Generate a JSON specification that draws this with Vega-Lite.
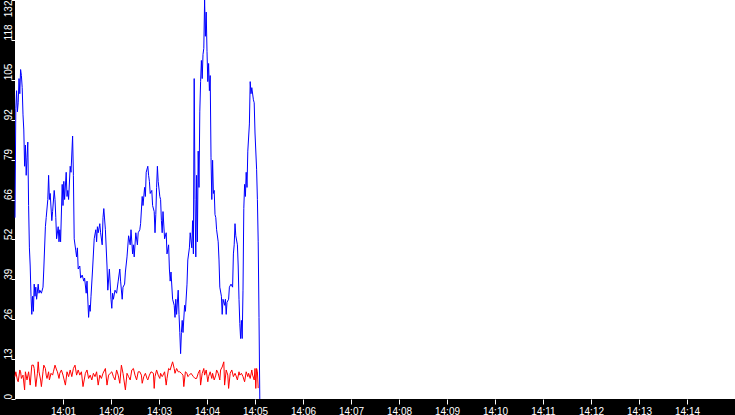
{
  "$schema": "https://vega.github.io/schema/vega-lite/v6.json",
  "width": 720,
  "height": 399,
  "autosize": "none",
  "padding": {"left": 15, "top": 0, "right": 0, "bottom": 16},
  "background": "black",
  "view": {"fill": "white", "stroke": null},
  "datasets": {
    "blue": [
      {"t": "2024-01-01T14:00:00", "v": 60}, {"t": "2024-01-01T14:00:01", "v": 96}, {"t": "2024-01-01T14:00:02", "v": 102},
      {"t": "2024-01-01T14:00:03", "v": 95}, {"t": "2024-01-01T14:00:04", "v": 98}, {"t": "2024-01-01T14:00:05", "v": 106},
      {"t": "2024-01-01T14:00:06", "v": 101}, {"t": "2024-01-01T14:00:07", "v": 109}, {"t": "2024-01-01T14:00:08", "v": 107},
      {"t": "2024-01-01T14:00:09", "v": 103}, {"t": "2024-01-01T14:00:10", "v": 94}, {"t": "2024-01-01T14:00:11", "v": 89},
      {"t": "2024-01-01T14:00:12", "v": 77}, {"t": "2024-01-01T14:00:13", "v": 84}, {"t": "2024-01-01T14:00:14", "v": 74},
      {"t": "2024-01-01T14:00:15", "v": 80}, {"t": "2024-01-01T14:00:16", "v": 85}, {"t": "2024-01-01T14:00:17", "v": 64},
      {"t": "2024-01-01T14:00:18", "v": 50}, {"t": "2024-01-01T14:00:19", "v": 44}, {"t": "2024-01-01T14:00:20", "v": 34},
      {"t": "2024-01-01T14:00:21", "v": 28}, {"t": "2024-01-01T14:00:22", "v": 34}, {"t": "2024-01-01T14:00:23", "v": 29},
      {"t": "2024-01-01T14:00:24", "v": 38}, {"t": "2024-01-01T14:00:25", "v": 34}, {"t": "2024-01-01T14:00:26", "v": 37},
      {"t": "2024-01-01T14:00:27", "v": 33}, {"t": "2024-01-01T14:00:29", "v": 38}, {"t": "2024-01-01T14:00:30", "v": 35},
      {"t": "2024-01-01T14:00:31", "v": 36}, {"t": "2024-01-01T14:00:33", "v": 35}, {"t": "2024-01-01T14:00:35", "v": 37},
      {"t": "2024-01-01T14:00:36", "v": 43}, {"t": "2024-01-01T14:00:38", "v": 57}, {"t": "2024-01-01T14:00:39", "v": 60},
      {"t": "2024-01-01T14:00:41", "v": 66}, {"t": "2024-01-01T14:00:42", "v": 74}, {"t": "2024-01-01T14:00:43", "v": 66},
      {"t": "2024-01-01T14:00:44", "v": 68}, {"t": "2024-01-01T14:00:46", "v": 59}, {"t": "2024-01-01T14:00:47", "v": 62},
      {"t": "2024-01-01T14:00:49", "v": 69}, {"t": "2024-01-01T14:00:50", "v": 66}, {"t": "2024-01-01T14:00:51", "v": 60},
      {"t": "2024-01-01T14:00:52", "v": 53}, {"t": "2024-01-01T14:00:54", "v": 57}, {"t": "2024-01-01T14:00:55", "v": 52},
      {"t": "2024-01-01T14:00:56", "v": 56}, {"t": "2024-01-01T14:00:57", "v": 52}, {"t": "2024-01-01T14:00:59", "v": 71},
      {"t": "2024-01-01T14:01:00", "v": 64}, {"t": "2024-01-01T14:01:01", "v": 72}, {"t": "2024-01-01T14:01:02", "v": 66},
      {"t": "2024-01-01T14:01:04", "v": 75}, {"t": "2024-01-01T14:01:05", "v": 67}, {"t": "2024-01-01T14:01:06", "v": 69},
      {"t": "2024-01-01T14:01:07", "v": 66}, {"t": "2024-01-01T14:01:09", "v": 77}, {"t": "2024-01-01T14:01:10", "v": 75},
      {"t": "2024-01-01T14:01:12", "v": 87}, {"t": "2024-01-01T14:01:13", "v": 74}, {"t": "2024-01-01T14:01:14", "v": 53},
      {"t": "2024-01-01T14:01:16", "v": 49}, {"t": "2024-01-01T14:01:17", "v": 47}, {"t": "2024-01-01T14:01:18", "v": 50},
      {"t": "2024-01-01T14:01:19", "v": 43}, {"t": "2024-01-01T14:01:21", "v": 44}, {"t": "2024-01-01T14:01:22", "v": 40},
      {"t": "2024-01-01T14:01:24", "v": 41}, {"t": "2024-01-01T14:01:26", "v": 39}, {"t": "2024-01-01T14:01:27", "v": 40},
      {"t": "2024-01-01T14:01:29", "v": 35}, {"t": "2024-01-01T14:01:30", "v": 39}, {"t": "2024-01-01T14:01:32", "v": 27},
      {"t": "2024-01-01T14:01:33", "v": 31}, {"t": "2024-01-01T14:01:34", "v": 29}, {"t": "2024-01-01T14:01:35", "v": 34},
      {"t": "2024-01-01T14:01:37", "v": 43}, {"t": "2024-01-01T14:01:39", "v": 53}, {"t": "2024-01-01T14:01:41", "v": 56},
      {"t": "2024-01-01T14:01:42", "v": 52}, {"t": "2024-01-01T14:01:43", "v": 57}, {"t": "2024-01-01T14:01:44", "v": 55},
      {"t": "2024-01-01T14:01:46", "v": 58}, {"t": "2024-01-01T14:01:47", "v": 55}, {"t": "2024-01-01T14:01:49", "v": 51},
      {"t": "2024-01-01T14:01:50", "v": 60}, {"t": "2024-01-01T14:01:51", "v": 63}, {"t": "2024-01-01T14:01:53", "v": 56},
      {"t": "2024-01-01T14:01:55", "v": 44}, {"t": "2024-01-01T14:01:56", "v": 36}, {"t": "2024-01-01T14:01:58", "v": 43},
      {"t": "2024-01-01T14:02:00", "v": 33}, {"t": "2024-01-01T14:02:01", "v": 30}, {"t": "2024-01-01T14:02:02", "v": 35},
      {"t": "2024-01-01T14:02:03", "v": 33}, {"t": "2024-01-01T14:02:05", "v": 36}, {"t": "2024-01-01T14:02:07", "v": 35},
      {"t": "2024-01-01T14:02:09", "v": 39}, {"t": "2024-01-01T14:02:11", "v": 43}, {"t": "2024-01-01T14:02:12", "v": 39},
      {"t": "2024-01-01T14:02:14", "v": 33}, {"t": "2024-01-01T14:02:15", "v": 37}, {"t": "2024-01-01T14:02:17", "v": 38},
      {"t": "2024-01-01T14:02:18", "v": 42}, {"t": "2024-01-01T14:02:20", "v": 47}, {"t": "2024-01-01T14:02:22", "v": 54},
      {"t": "2024-01-01T14:02:24", "v": 51}, {"t": "2024-01-01T14:02:25", "v": 56}, {"t": "2024-01-01T14:02:27", "v": 48},
      {"t": "2024-01-01T14:02:28", "v": 51}, {"t": "2024-01-01T14:02:29", "v": 47}, {"t": "2024-01-01T14:02:31", "v": 55},
      {"t": "2024-01-01T14:02:33", "v": 51}, {"t": "2024-01-01T14:02:34", "v": 55}, {"t": "2024-01-01T14:02:36", "v": 56},
      {"t": "2024-01-01T14:02:37", "v": 58}, {"t": "2024-01-01T14:02:39", "v": 67}, {"t": "2024-01-01T14:02:40", "v": 64},
      {"t": "2024-01-01T14:02:42", "v": 70}, {"t": "2024-01-01T14:02:43", "v": 67}, {"t": "2024-01-01T14:02:44", "v": 75},
      {"t": "2024-01-01T14:02:46", "v": 77}, {"t": "2024-01-01T14:02:47", "v": 74}, {"t": "2024-01-01T14:02:48", "v": 72},
      {"t": "2024-01-01T14:02:49", "v": 68}, {"t": "2024-01-01T14:02:51", "v": 69}, {"t": "2024-01-01T14:02:52", "v": 64},
      {"t": "2024-01-01T14:02:54", "v": 62}, {"t": "2024-01-01T14:02:55", "v": 55}, {"t": "2024-01-01T14:02:56", "v": 61},
      {"t": "2024-01-01T14:02:57", "v": 70}, {"t": "2024-01-01T14:02:58", "v": 77}, {"t": "2024-01-01T14:02:59", "v": 72},
      {"t": "2024-01-01T14:03:01", "v": 67}, {"t": "2024-01-01T14:03:02", "v": 66}, {"t": "2024-01-01T14:03:03", "v": 59},
      {"t": "2024-01-01T14:03:04", "v": 55}, {"t": "2024-01-01T14:03:05", "v": 62}, {"t": "2024-01-01T14:03:07", "v": 53},
      {"t": "2024-01-01T14:03:09", "v": 55}, {"t": "2024-01-01T14:03:10", "v": 48}, {"t": "2024-01-01T14:03:12", "v": 51},
      {"t": "2024-01-01T14:03:13", "v": 43}, {"t": "2024-01-01T14:03:14", "v": 39}, {"t": "2024-01-01T14:03:15", "v": 42},
      {"t": "2024-01-01T14:03:17", "v": 33}, {"t": "2024-01-01T14:03:19", "v": 31}, {"t": "2024-01-01T14:03:20", "v": 27},
      {"t": "2024-01-01T14:03:21", "v": 33}, {"t": "2024-01-01T14:03:22", "v": 28}, {"t": "2024-01-01T14:03:24", "v": 36},
      {"t": "2024-01-01T14:03:25", "v": 28}, {"t": "2024-01-01T14:03:26", "v": 22}, {"t": "2024-01-01T14:03:27", "v": 15},
      {"t": "2024-01-01T14:03:28", "v": 22}, {"t": "2024-01-01T14:03:29", "v": 26}, {"t": "2024-01-01T14:03:30", "v": 22},
      {"t": "2024-01-01T14:03:32", "v": 31}, {"t": "2024-01-01T14:03:33", "v": 29}, {"t": "2024-01-01T14:03:35", "v": 38},
      {"t": "2024-01-01T14:03:36", "v": 46}, {"t": "2024-01-01T14:03:38", "v": 50}, {"t": "2024-01-01T14:03:39", "v": 55},
      {"t": "2024-01-01T14:03:41", "v": 50}, {"t": "2024-01-01T14:03:42", "v": 59}, {"t": "2024-01-01T14:03:43", "v": 48},
      {"t": "2024-01-01T14:03:44", "v": 106}, {"t": "2024-01-01T14:03:45", "v": 66}, {"t": "2024-01-01T14:03:46", "v": 47},
      {"t": "2024-01-01T14:03:47", "v": 74}, {"t": "2024-01-01T14:03:48", "v": 52}, {"t": "2024-01-01T14:03:49", "v": 82},
      {"t": "2024-01-01T14:03:50", "v": 70}, {"t": "2024-01-01T14:03:51", "v": 95}, {"t": "2024-01-01T14:03:52", "v": 105},
      {"t": "2024-01-01T14:03:53", "v": 112}, {"t": "2024-01-01T14:03:54", "v": 106}, {"t": "2024-01-01T14:03:55", "v": 114},
      {"t": "2024-01-01T14:03:56", "v": 116}, {"t": "2024-01-01T14:03:57", "v": 132}, {"t": "2024-01-01T14:03:58", "v": 120},
      {"t": "2024-01-01T14:03:59", "v": 128}, {"t": "2024-01-01T14:04:00", "v": 115}, {"t": "2024-01-01T14:04:01", "v": 105},
      {"t": "2024-01-01T14:04:02", "v": 111}, {"t": "2024-01-01T14:04:03", "v": 102}, {"t": "2024-01-01T14:04:04", "v": 107},
      {"t": "2024-01-01T14:04:05", "v": 80}, {"t": "2024-01-01T14:04:06", "v": 66}, {"t": "2024-01-01T14:04:07", "v": 79},
      {"t": "2024-01-01T14:04:08", "v": 68}, {"t": "2024-01-01T14:04:09", "v": 69}, {"t": "2024-01-01T14:04:10", "v": 61},
      {"t": "2024-01-01T14:04:11", "v": 60}, {"t": "2024-01-01T14:04:12", "v": 56}, {"t": "2024-01-01T14:04:14", "v": 52},
      {"t": "2024-01-01T14:04:15", "v": 46}, {"t": "2024-01-01T14:04:16", "v": 37}, {"t": "2024-01-01T14:04:18", "v": 34},
      {"t": "2024-01-01T14:04:19", "v": 28}, {"t": "2024-01-01T14:04:20", "v": 33}, {"t": "2024-01-01T14:04:22", "v": 31},
      {"t": "2024-01-01T14:04:23", "v": 33}, {"t": "2024-01-01T14:04:24", "v": 28}, {"t": "2024-01-01T14:04:25", "v": 32},
      {"t": "2024-01-01T14:04:27", "v": 33}, {"t": "2024-01-01T14:04:28", "v": 37}, {"t": "2024-01-01T14:04:30", "v": 38},
      {"t": "2024-01-01T14:04:32", "v": 37}, {"t": "2024-01-01T14:04:33", "v": 48}, {"t": "2024-01-01T14:04:34", "v": 51},
      {"t": "2024-01-01T14:04:35", "v": 58}, {"t": "2024-01-01T14:04:36", "v": 54}, {"t": "2024-01-01T14:04:38", "v": 51},
      {"t": "2024-01-01T14:04:39", "v": 44}, {"t": "2024-01-01T14:04:40", "v": 33}, {"t": "2024-01-01T14:04:41", "v": 25},
      {"t": "2024-01-01T14:04:42", "v": 20}, {"t": "2024-01-01T14:04:43", "v": 26}, {"t": "2024-01-01T14:04:44", "v": 20},
      {"t": "2024-01-01T14:04:45", "v": 36}, {"t": "2024-01-01T14:04:46", "v": 63}, {"t": "2024-01-01T14:04:47", "v": 71},
      {"t": "2024-01-01T14:04:48", "v": 67}, {"t": "2024-01-01T14:04:49", "v": 75}, {"t": "2024-01-01T14:04:50", "v": 70},
      {"t": "2024-01-01T14:04:51", "v": 82}, {"t": "2024-01-01T14:04:53", "v": 91}, {"t": "2024-01-01T14:04:54", "v": 105},
      {"t": "2024-01-01T14:04:55", "v": 101}, {"t": "2024-01-01T14:04:56", "v": 103}, {"t": "2024-01-01T14:04:58", "v": 99},
      {"t": "2024-01-01T14:04:59", "v": 98}, {"t": "2024-01-01T14:05:00", "v": 88}, {"t": "2024-01-01T14:05:02", "v": 76},
      {"t": "2024-01-01T14:05:03", "v": 66}, {"t": "2024-01-01T14:05:04", "v": 52}, {"t": "2024-01-01T14:05:05", "v": 27},
      {"t": "2024-01-01T14:05:06", "v": 0}
    ],
    "red": [
      {"t": "2024-01-01T14:00:00", "v": 7.4}, {"t": "2024-01-01T14:00:01", "v": 9.0}, {"t": "2024-01-01T14:00:03", "v": 6.3},
      {"t": "2024-01-01T14:00:04", "v": 5.7}, {"t": "2024-01-01T14:00:06", "v": 9.6}, {"t": "2024-01-01T14:00:07", "v": 9.0},
      {"t": "2024-01-01T14:00:08", "v": 6.8}, {"t": "2024-01-01T14:00:10", "v": 7.9}, {"t": "2024-01-01T14:00:12", "v": 3.0},
      {"t": "2024-01-01T14:00:13", "v": 9.0}, {"t": "2024-01-01T14:00:15", "v": 6.3}, {"t": "2024-01-01T14:00:17", "v": 9.0},
      {"t": "2024-01-01T14:00:19", "v": 4.6}, {"t": "2024-01-01T14:00:21", "v": 11.2}, {"t": "2024-01-01T14:00:23", "v": 11.2},
      {"t": "2024-01-01T14:00:24", "v": 10.1}, {"t": "2024-01-01T14:00:26", "v": 4.1}, {"t": "2024-01-01T14:00:28", "v": 8.5},
      {"t": "2024-01-01T14:00:29", "v": 12.3}, {"t": "2024-01-01T14:00:30", "v": 9.0}, {"t": "2024-01-01T14:00:32", "v": 6.3},
      {"t": "2024-01-01T14:00:33", "v": 4.1}, {"t": "2024-01-01T14:00:35", "v": 9.0}, {"t": "2024-01-01T14:00:36", "v": 11.2},
      {"t": "2024-01-01T14:00:38", "v": 10.1}, {"t": "2024-01-01T14:00:39", "v": 7.9}, {"t": "2024-01-01T14:00:40", "v": 6.8},
      {"t": "2024-01-01T14:00:42", "v": 9.0}, {"t": "2024-01-01T14:00:43", "v": 6.3}, {"t": "2024-01-01T14:00:45", "v": 8.5},
      {"t": "2024-01-01T14:00:47", "v": 7.9}, {"t": "2024-01-01T14:00:48", "v": 9.0}, {"t": "2024-01-01T14:00:50", "v": 11.2},
      {"t": "2024-01-01T14:00:52", "v": 9.6}, {"t": "2024-01-01T14:00:53", "v": 9.0}, {"t": "2024-01-01T14:00:55", "v": 6.8},
      {"t": "2024-01-01T14:00:56", "v": 8.5}, {"t": "2024-01-01T14:00:58", "v": 9.6}, {"t": "2024-01-01T14:01:00", "v": 7.9},
      {"t": "2024-01-01T14:01:03", "v": 4.6}, {"t": "2024-01-01T14:01:05", "v": 9.0}, {"t": "2024-01-01T14:01:07", "v": 7.4},
      {"t": "2024-01-01T14:01:09", "v": 9.6}, {"t": "2024-01-01T14:01:11", "v": 7.4}, {"t": "2024-01-01T14:01:13", "v": 10.1},
      {"t": "2024-01-01T14:01:15", "v": 11.2}, {"t": "2024-01-01T14:01:17", "v": 7.9}, {"t": "2024-01-01T14:01:19", "v": 9.6},
      {"t": "2024-01-01T14:01:21", "v": 7.9}, {"t": "2024-01-01T14:01:23", "v": 9.0}, {"t": "2024-01-01T14:01:25", "v": 4.1},
      {"t": "2024-01-01T14:01:28", "v": 8.5}, {"t": "2024-01-01T14:01:30", "v": 9.6}, {"t": "2024-01-01T14:01:32", "v": 6.8},
      {"t": "2024-01-01T14:01:34", "v": 7.9}, {"t": "2024-01-01T14:01:36", "v": 6.3}, {"t": "2024-01-01T14:01:38", "v": 8.5},
      {"t": "2024-01-01T14:01:40", "v": 7.4}, {"t": "2024-01-01T14:01:42", "v": 9.0}, {"t": "2024-01-01T14:01:44", "v": 4.6},
      {"t": "2024-01-01T14:01:46", "v": 7.9}, {"t": "2024-01-01T14:01:48", "v": 6.8}, {"t": "2024-01-01T14:01:50", "v": 8.5},
      {"t": "2024-01-01T14:01:53", "v": 10.1}, {"t": "2024-01-01T14:01:55", "v": 4.6}, {"t": "2024-01-01T14:01:57", "v": 7.9},
      {"t": "2024-01-01T14:01:59", "v": 8.5}, {"t": "2024-01-01T14:02:01", "v": 9.0}, {"t": "2024-01-01T14:02:03", "v": 7.4},
      {"t": "2024-01-01T14:02:05", "v": 6.3}, {"t": "2024-01-01T14:02:07", "v": 9.6}, {"t": "2024-01-01T14:02:09", "v": 7.9},
      {"t": "2024-01-01T14:02:11", "v": 5.2}, {"t": "2024-01-01T14:02:13", "v": 11.2}, {"t": "2024-01-01T14:02:15", "v": 8.5},
      {"t": "2024-01-01T14:02:18", "v": 3.0}, {"t": "2024-01-01T14:02:20", "v": 8.5}, {"t": "2024-01-01T14:02:22", "v": 7.4},
      {"t": "2024-01-01T14:02:24", "v": 6.3}, {"t": "2024-01-01T14:02:26", "v": 9.6}, {"t": "2024-01-01T14:02:28", "v": 10.1},
      {"t": "2024-01-01T14:02:30", "v": 7.9}, {"t": "2024-01-01T14:02:32", "v": 6.3}, {"t": "2024-01-01T14:02:34", "v": 9.0},
      {"t": "2024-01-01T14:02:36", "v": 9.0}, {"t": "2024-01-01T14:02:38", "v": 7.9}, {"t": "2024-01-01T14:02:39", "v": 5.2},
      {"t": "2024-01-01T14:02:41", "v": 7.4}, {"t": "2024-01-01T14:02:43", "v": 8.5}, {"t": "2024-01-01T14:02:45", "v": 6.8},
      {"t": "2024-01-01T14:02:46", "v": 6.3}, {"t": "2024-01-01T14:02:48", "v": 7.9}, {"t": "2024-01-01T14:02:50", "v": 9.0},
      {"t": "2024-01-01T14:02:53", "v": 8.5}, {"t": "2024-01-01T14:02:54", "v": 3.5}, {"t": "2024-01-01T14:02:55", "v": 7.4},
      {"t": "2024-01-01T14:02:57", "v": 9.6}, {"t": "2024-01-01T14:02:59", "v": 7.9}, {"t": "2024-01-01T14:03:01", "v": 6.8},
      {"t": "2024-01-01T14:03:02", "v": 8.5}, {"t": "2024-01-01T14:03:04", "v": 7.4}, {"t": "2024-01-01T14:03:05", "v": 7.9},
      {"t": "2024-01-01T14:03:07", "v": 9.0}, {"t": "2024-01-01T14:03:09", "v": 4.6}, {"t": "2024-01-01T14:03:10", "v": 6.8},
      {"t": "2024-01-01T14:03:12", "v": 10.1}, {"t": "2024-01-01T14:03:14", "v": 9.6}, {"t": "2024-01-01T14:03:15", "v": 10.6},
      {"t": "2024-01-01T14:03:17", "v": 12.3}, {"t": "2024-01-01T14:03:19", "v": 10.1}, {"t": "2024-01-01T14:03:20", "v": 8.5},
      {"t": "2024-01-01T14:03:22", "v": 10.1}, {"t": "2024-01-01T14:03:24", "v": 9.0}, {"t": "2024-01-01T14:03:26", "v": 9.0},
      {"t": "2024-01-01T14:03:28", "v": 8.5}, {"t": "2024-01-01T14:03:30", "v": 7.9}, {"t": "2024-01-01T14:03:31", "v": 4.1},
      {"t": "2024-01-01T14:03:33", "v": 9.0}, {"t": "2024-01-01T14:03:35", "v": 8.5}, {"t": "2024-01-01T14:03:36", "v": 7.4},
      {"t": "2024-01-01T14:03:38", "v": 7.9}, {"t": "2024-01-01T14:03:40", "v": 8.5}, {"t": "2024-01-01T14:03:43", "v": 7.4},
      {"t": "2024-01-01T14:03:45", "v": 6.8}, {"t": "2024-01-01T14:03:47", "v": 6.8}, {"t": "2024-01-01T14:03:49", "v": 8.5},
      {"t": "2024-01-01T14:03:51", "v": 9.6}, {"t": "2024-01-01T14:03:52", "v": 4.6}, {"t": "2024-01-01T14:03:54", "v": 8.5},
      {"t": "2024-01-01T14:03:56", "v": 10.1}, {"t": "2024-01-01T14:03:57", "v": 7.9}, {"t": "2024-01-01T14:03:59", "v": 9.6},
      {"t": "2024-01-01T14:04:01", "v": 5.7}, {"t": "2024-01-01T14:04:02", "v": 7.4}, {"t": "2024-01-01T14:04:04", "v": 9.0},
      {"t": "2024-01-01T14:04:06", "v": 6.8}, {"t": "2024-01-01T14:04:07", "v": 8.5}, {"t": "2024-01-01T14:04:09", "v": 6.3},
      {"t": "2024-01-01T14:04:11", "v": 7.9}, {"t": "2024-01-01T14:04:12", "v": 9.6}, {"t": "2024-01-01T14:04:14", "v": 8.5},
      {"t": "2024-01-01T14:04:16", "v": 6.3}, {"t": "2024-01-01T14:04:17", "v": 9.6}, {"t": "2024-01-01T14:04:19", "v": 10.6},
      {"t": "2024-01-01T14:04:21", "v": 12.3}, {"t": "2024-01-01T14:04:22", "v": 4.6}, {"t": "2024-01-01T14:04:24", "v": 9.6},
      {"t": "2024-01-01T14:04:26", "v": 7.9}, {"t": "2024-01-01T14:04:27", "v": 3.5}, {"t": "2024-01-01T14:04:29", "v": 8.5},
      {"t": "2024-01-01T14:04:31", "v": 9.6}, {"t": "2024-01-01T14:04:33", "v": 7.4}, {"t": "2024-01-01T14:04:35", "v": 8.5},
      {"t": "2024-01-01T14:04:36", "v": 7.9}, {"t": "2024-01-01T14:04:38", "v": 6.3}, {"t": "2024-01-01T14:04:40", "v": 9.0},
      {"t": "2024-01-01T14:04:41", "v": 7.9}, {"t": "2024-01-01T14:04:43", "v": 8.5}, {"t": "2024-01-01T14:04:45", "v": 7.4},
      {"t": "2024-01-01T14:04:47", "v": 5.7}, {"t": "2024-01-01T14:04:49", "v": 9.0}, {"t": "2024-01-01T14:04:51", "v": 7.4},
      {"t": "2024-01-01T14:04:52", "v": 8.5}, {"t": "2024-01-01T14:04:54", "v": 6.8}, {"t": "2024-01-01T14:04:56", "v": 9.6},
      {"t": "2024-01-01T14:04:57", "v": 7.9}, {"t": "2024-01-01T14:04:59", "v": 6.3}, {"t": "2024-01-01T14:05:00", "v": 10.1},
      {"t": "2024-01-01T14:05:01", "v": 3.5}, {"t": "2024-01-01T14:05:02", "v": 10.1}, {"t": "2024-01-01T14:05:03", "v": 9.0},
      {"t": "2024-01-01T14:05:04", "v": 3.6}
    ]
  },
  "encoding": {
    "x": {
      "field": "t",
      "type": "temporal",
      "title": null,
      "scale": {
        "domain": [
          {"year": 2024, "month": 1, "date": 1, "hours": 14, "minutes": 0},
          {"year": 2024, "month": 1, "date": 1, "hours": 14, "minutes": 15}
        ]
      },
      "axis": {
        "values": [
          {"year": 2024, "month": 1, "date": 1, "hours": 14, "minutes": 1},
          {"year": 2024, "month": 1, "date": 1, "hours": 14, "minutes": 2},
          {"year": 2024, "month": 1, "date": 1, "hours": 14, "minutes": 3},
          {"year": 2024, "month": 1, "date": 1, "hours": 14, "minutes": 4},
          {"year": 2024, "month": 1, "date": 1, "hours": 14, "minutes": 5},
          {"year": 2024, "month": 1, "date": 1, "hours": 14, "minutes": 6},
          {"year": 2024, "month": 1, "date": 1, "hours": 14, "minutes": 7},
          {"year": 2024, "month": 1, "date": 1, "hours": 14, "minutes": 8},
          {"year": 2024, "month": 1, "date": 1, "hours": 14, "minutes": 9},
          {"year": 2024, "month": 1, "date": 1, "hours": 14, "minutes": 10},
          {"year": 2024, "month": 1, "date": 1, "hours": 14, "minutes": 11},
          {"year": 2024, "month": 1, "date": 1, "hours": 14, "minutes": 12},
          {"year": 2024, "month": 1, "date": 1, "hours": 14, "minutes": 13},
          {"year": 2024, "month": 1, "date": 1, "hours": 14, "minutes": 14}
        ],
        "format": "%H:%M",
        "domain": false,
        "grid": false,
        "tickColor": "white",
        "tickSize": 5,
        "labelColor": "white",
        "labelFont": "Liberation Sans",
        "labelFontSize": 10,
        "labelPadding": 2,
        "labelFlush": false,
        "labelOverlap": false
      }
    },
    "y": {
      "field": "v",
      "type": "quantitative",
      "title": null,
      "scale": {"domain": [0, 132], "nice": false},
      "axis": {
        "values": [0, 13.2, 26.4, 39.6, 52.8, 66, 79.2, 92.4, 105.6, 118.8, 132],
        "labelExpr": "floor(datum.value)",
        "domain": false,
        "grid": false,
        "tickColor": "white",
        "tickSize": 4,
        "labelColor": "white",
        "labelFont": "Liberation Sans",
        "labelFontSize": 10,
        "labelAngle": -90,
        "labelAlign": {"condition": {"test": "datum.value > 131", "value": "right"}, "value": "left"},
        "labelBaseline": "alphabetic",
        "labelPadding": 0,
        "labelFlush": false,
        "labelOverlap": false
      }
    }
  },
  "layer": [
    {"data": {"name": "red"}, "mark": {"type": "line", "color": "#ff0000", "strokeWidth": 1}},
    {"data": {"name": "blue"}, "mark": {"type": "line", "color": "#0000ff", "strokeWidth": 1}}
  ]
}
